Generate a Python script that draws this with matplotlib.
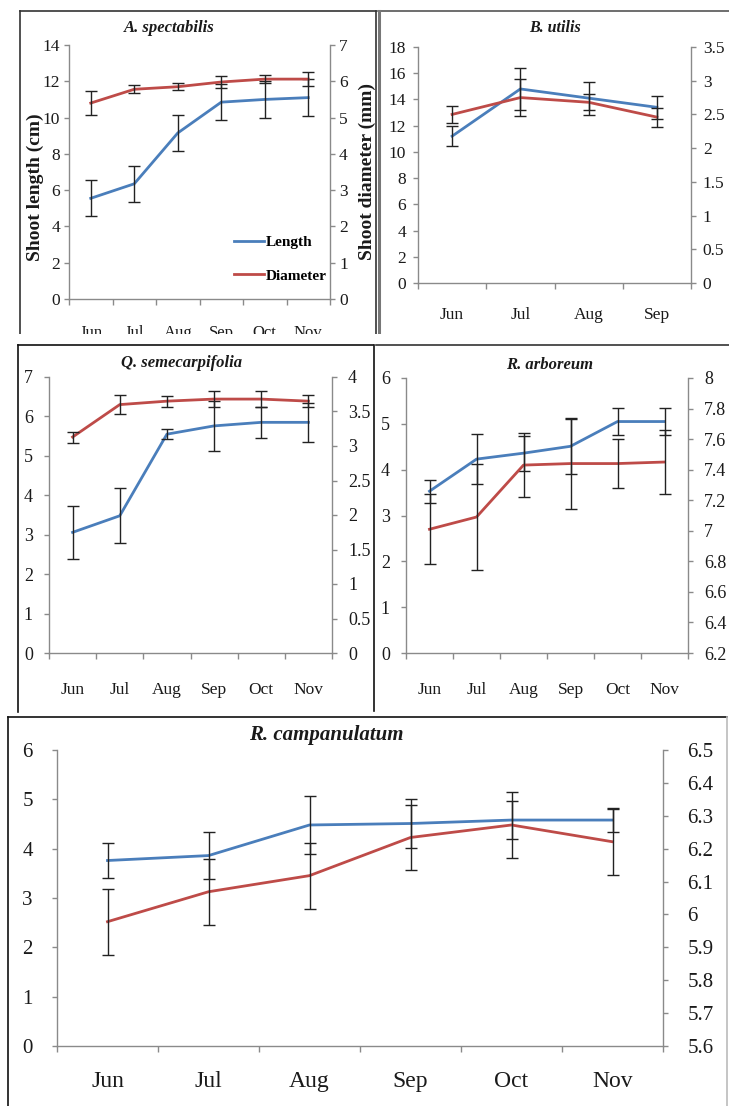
import numpy as np
import matplotlib
matplotlib.use('Agg')
import matplotlib.pyplot as plt
from matplotlib.patches import Rectangle
from matplotlib.lines import Line2D
from matplotlib.ticker import MultipleLocator, FuncFormatter

plt.rcParams['font.family'] = ['Liberation Serif', 'DejaVu Serif']

months6 = ['Jun', 'Jul', 'Aug', 'Sep', 'Oct', 'Nov']
months4 = ['Jun', 'Jul', 'Aug', 'Sep']

# A. spectabilis
as_len = [5.55, 6.35, 9.15, 10.85, 11.0, 11.1]
as_len_err = [1.0, 1.0, 1.0, 1.0, 1.0, 1.0]
as_dia = [5.4, 5.78, 5.85, 5.98, 6.06, 6.06]
as_dia_err = [0.32, 0.11, 0.1, 0.17, 0.1, 0.2]

# B. utilis
bu_len = [11.2, 14.8, 14.1, 13.4]
bu_len_err = [0.75, 1.6, 1.25, 0.9]
bu_dia = [2.5, 2.75, 2.68, 2.46]
bu_dia_err = [0.13, 0.27, 0.12, 0.14]

# Q. semecarpifolia
qs_len = [3.06, 3.48, 5.55, 5.76, 5.85, 5.85]
qs_len_err = [0.67, 0.7, 0.12, 0.64, 0.4, 0.5]
qs_dia = [3.13, 3.6, 3.65, 3.68, 3.68, 3.65]
qs_dia_err = [0.08, 0.14, 0.08, 0.12, 0.12, 0.09]

# R. arboreum
ra_len = [3.53, 4.23, 4.36, 4.51, 5.05, 5.05]
ra_len_err = [0.25, 0.55, 0.38, 0.6, 0.3, 0.3]
ra_dia = [7.01, 7.09, 7.43, 7.44, 7.44, 7.45]
ra_dia_err = [0.23, 0.35, 0.21, 0.3, 0.16, 0.21]

# R. campanulatum
rc_len = [3.76, 3.86, 4.48, 4.51, 4.58, 4.58]
rc_len_err = [0.35, 0.48, 0.58, 0.5, 0.38, 0.25]
rc_dia = [5.978, 6.069, 6.118, 6.234, 6.272, 6.221]
rc_dia_err = [0.1, 0.1, 0.1, 0.1, 0.1, 0.1]

BLUE = '#4a7ebb'
RED = '#be4b48'
GRAY = '#8a8a8a'
TXT = '#1a1a1a'

W, H = 729, 1106
fig = plt.figure(figsize=(W / 100, H / 100), dpi=100)


def fmt(v, _):
    return '{:g}'.format(round(v, 2))


def panel(box, months, ln, ln_err, dm, dm_err, lrange, lstep, rrange, rstep,
          title, title_xy, fs, xfs, xpad, ypad, title_fs):
    l, r, t, b = box
    ax = fig.add_axes([l / W, 1 - b / H, (r - l) / W, (b - t) / H])
    ax2 = ax.twinx()
    n = len(months)
    x = np.arange(n)

    ax.plot(x, ln, color=BLUE, lw=2.0, zorder=2)
    ax.errorbar(x, ln, yerr=ln_err, fmt='none', ecolor='#222222',
                elinewidth=1.0, capsize=4.5, capthick=1.0, zorder=3)
    ax2.plot(x, dm, color=RED, lw=2.0, zorder=2)
    ax2.errorbar(x, dm, yerr=dm_err, fmt='none', ecolor='#222222',
                 elinewidth=1.0, capsize=4.5, capthick=1.0, zorder=3)

    ax.set_xlim(-0.5, n - 0.5)
    ax.set_ylim(*lrange)
    ax2.set_ylim(*rrange)
    ax.yaxis.set_major_locator(MultipleLocator(lstep))
    ax2.yaxis.set_major_locator(MultipleLocator(rstep))
    ax.yaxis.set_major_formatter(FuncFormatter(fmt))
    ax2.yaxis.set_major_formatter(FuncFormatter(fmt))

    ax.set_xticks(np.arange(n + 1) - 0.5)
    ax.set_xticklabels([])
    ax.set_xticks(x, minor=True)
    ax.set_xticklabels(months, minor=True)
    ax.tick_params(axis='x', which='major', direction='out', length=4.5,
                   color=GRAY, width=1.0)
    ax.tick_params(axis='x', which='minor', length=0, pad=xpad,
                   labelsize=xfs, labelcolor=TXT)
    ax.tick_params(axis='y', direction='out', length=3.5, color=GRAY,
                   width=1.0, labelsize=fs, labelcolor=TXT, pad=ypad)
    ax2.tick_params(axis='y', direction='out', length=3.5, color=GRAY,
                    width=1.0, labelsize=fs, labelcolor=TXT, pad=ypad)

    for a in (ax, ax2):
        for s in a.spines.values():
            s.set_visible(False)
            s.set_color(GRAY)
            s.set_linewidth(1.0)
        a.patch.set_visible(False)
    ax.spines['left'].set_visible(True)
    ax.spines['bottom'].set_visible(True)
    ax2.spines['right'].set_visible(True)

    fig.text(title_xy[0] / W, 1 - title_xy[1] / H, title, fontsize=title_fs,
             fontweight='bold', fontstyle='italic', ha='center', va='center',
             color=TXT)
    return ax, ax2


ax1, ax1b = panel((69, 330, 45, 299), months6, as_len, as_len_err, as_dia, as_dia_err,
                  (0, 14), 2, (0, 7), 1, 'A. spectabilis', (169, 28), 12.5, 12, 19, 3, 12)
ax2_, ax2b = panel((418, 691, 47, 283), months4, bu_len, bu_len_err, bu_dia, bu_dia_err,
                   (0, 18), 2, (0, 3.5), 0.5, 'B. utilis', (555, 28), 12.5, 12.5, 17, 5, 11.5)
ax3, ax3b = panel((49, 332, 377, 653), months6, qs_len, qs_len_err, qs_dia, qs_dia_err,
                  (0, 7), 1, (0, 4), 0.5, 'Q. semecarpifolia', (182, 363), 13, 12.5, 21, 8, 12)
ax4, ax4b = panel((406, 688, 378, 653), months6, ra_len, ra_len_err, ra_dia, ra_dia_err,
                  (0, 6), 1, (6.2, 8), 0.2, 'R. arboreum', (550, 365), 13, 12.5, 21, 8, 12)
ax5, ax5b = panel((57, 663, 750, 1046), months6, rc_len, rc_len_err, rc_dia, rc_dia_err,
                  (0, 6), 1, (5.6, 6.5), 0.1, 'R. campanulatum', (326, 735), 15, 17, 18, 14, 15)

# axis labels and legend of first panel
fig.text(35 / W, 1 - 187 / H, 'Shoot length (cm)', rotation=90, fontsize=14,
         fontweight='bold', ha='center', va='center', color=TXT)
fig.text(367 / W, 1 - 172 / H, 'Shoot diameter (mm)', rotation=90, fontsize=14,
         fontweight='bold', ha='center', va='center', color=TXT)
handles = [Line2D([], [], color=BLUE, lw=2.0), Line2D([], [], color=RED, lw=2.0)]
ax1b.legend(handles, ['Length', 'Diameter'], loc='center left',
            bbox_to_anchor=(220 / W, 1 - 259 / H), bbox_transform=fig.transFigure,
            frameon=False, handlelength=2.0, handletextpad=0.1, labelspacing=1.3,
            prop={'weight': 'bold', 'size': 11})


def fline(x0, y0, x1, y1, color='#333333', lw=1.2, z=10):
    fig.add_artist(Line2D([x0 / W, x1 / W], [1 - y0 / H, 1 - y1 / H], color=color,
                          lw=lw, transform=fig.transFigure, zorder=z))


# panel frames
fline(20, 11, 376, 11)
fline(20, 11, 20, 340)
fline(376, 11, 376, 340)
fline(378, 11, 729, 11, color='#555555')
fline(379, 11, 379, 340, color='#777777', lw=2.2)
# white gap cutting the first row
fig.add_artist(Rectangle((0, 1 - 344 / H), 1, 10 / H, transform=fig.transFigure,
                         facecolor='white', edgecolor='none', zorder=11))
fline(18, 345, 373, 345, color='#111111')
fline(18, 345, 18, 712, color='#111111')
fline(374, 345, 374, 711, color='#111111')
fline(376, 345, 729, 345, color='#333333')
fline(8, 717, 727, 717, color='#111111')
fline(8, 717, 8, 1106, color='#111111')
fline(727, 717, 727, 1106, color='#bbbbbb')

fig.savefig('out.png', dpi=100)
